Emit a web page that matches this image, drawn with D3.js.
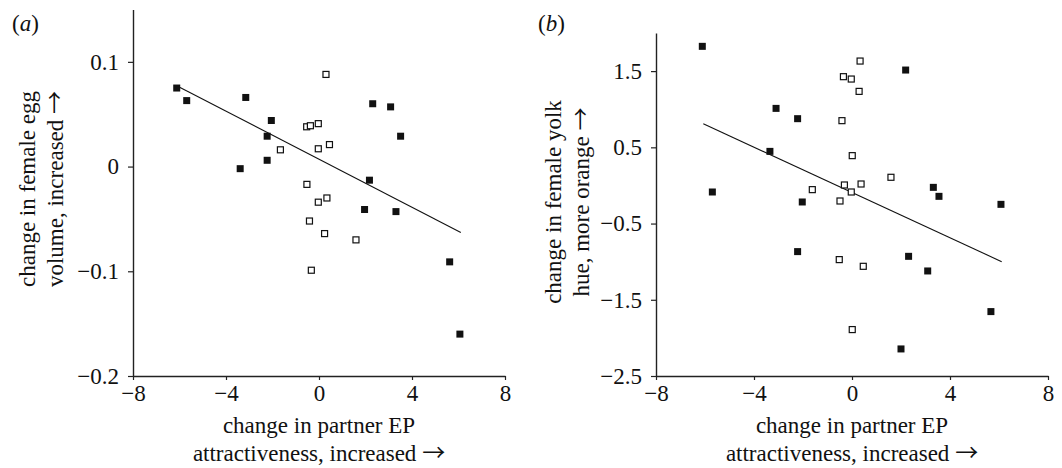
<!DOCTYPE html>
<html><head><meta charset="utf-8">
<script src="https://cdn.jsdelivr.net/npm/d3@7"></script>
<style>
body{margin:0;background:#fff;}
text{font-family:"Liberation Serif","Times New Roman",serif;fill:#111;}
.arr{font-family:"Noto Sans CJK JP","DejaVu Sans",sans-serif;}
</style></head>
<body><svg id="c" width="1062" height="468"></svg>
<script>
// Panel (a): change in female egg volume
const aFilledX = [-6.12,-5.69,-3.15,-2.05,-2.23,-2.23,-3.39,2.31,3.08,3.51,2.17,1.96,3.31,5.62,6.06];
const aFilledY = [0.075,0.063,0.066,0.044,0.029,0.006,-0.002,0.060,0.057,0.029,-0.013,-0.041,-0.043,-0.091,-0.160];
const aOpenX = [0.30,-0.53,-0.37,-0.03,-0.03,0.45,-1.66,-0.52,-0.03,0.34,-0.41,0.24,1.59,-0.33];
const aOpenY = [0.088,0.038,0.039,0.041,0.017,0.021,0.016,-0.017,-0.034,-0.030,-0.052,-0.064,-0.070,-0.099];
const aLineX = [-6.1, 6.1];
const aLineY = [0.077, -0.063];
const aYTicks = [-0.2,-0.1,0,0.1];

// Panel (b): change in female yolk hue
const bFilledX = [-6.11,-5.70,-3.10,-2.22,-3.35,-2.03,2.19,3.32,3.55,6.08,-2.22,2.31,3.09,5.67,2.00];
const bFilledY = [1.825,-0.086,1.011,0.876,0.447,-0.217,1.514,-0.025,-0.143,-0.248,-0.868,-0.930,-1.122,-1.655,-2.145];
const bOpenX = [0.33,-0.35,-0.03,0.29,-0.41,0.01,1.59,-0.31,0.37,-1.62,-0.03,-0.49,-0.52,0.46,0.01];
const bOpenY = [1.632,1.427,1.396,1.234,0.850,0.391,0.107,0.006,0.019,-0.055,-0.086,-0.204,-0.973,-1.061,-1.891];
const bLineX = [-6.07, 6.11];
const bLineY = [0.81, -1.00];
const bYTicks = [-2.5,-1.5,-0.5,0.5,1.5];

const xTicks = [-8,-4,0,4,8];
const FS = 23;

const svg = d3.select("#c");
const fmt = v => (v < 0 ? "\u2212" : "") + String(Math.abs(v));

function withArrow(sel, txt){
  sel.append("tspan").text(txt + " ");
  sel.append("tspan").attr("class","arr").text("\u2192");
}

function panel(opt){
  const g = svg.append("g");
  const x = d3.scaleLinear().domain([-8,8]).range(opt.xr);
  const y = d3.scaleLinear().domain(opt.yd).range(opt.yr);
  const xa = g.append("g").attr("transform",`translate(0,${opt.yr[0]})`)
    .call(d3.axisBottom(x).tickValues(xTicks).tickSize(4).tickPadding(5).tickFormat(fmt).tickSizeOuter(0));
  const ya = g.append("g").attr("transform",`translate(${opt.xr[0]},0)`)
    .call(d3.axisLeft(y).tickValues(opt.yt).tickSize(5).tickPadding(9).tickFormat(fmt).tickSizeOuter(0));
  [xa,ya].forEach(a=>{
    a.attr("font-family",null);
    a.selectAll("path").attr("stroke","#222").attr("stroke-width",1.4);
    a.selectAll("line").attr("stroke","#222").attr("stroke-width",1.2);
    a.selectAll("text").attr("font-size",FS).attr("font-family","Liberation Serif").attr("fill","#111");
  });
  // regression line
  g.append("line")
    .attr("x1",x(opt.lx[0])).attr("y1",y(opt.ly[0]))
    .attr("x2",x(opt.lx[1])).attr("y2",y(opt.ly[1]))
    .attr("stroke","#111").attr("stroke-width",1.1);
  // open squares
  const od = opt.ox.map((v,i)=>[v,opt.oy[i]]);
  g.selectAll("rect.o").data(od).enter().append("rect").attr("class","o")
    .attr("x",d=>x(d[0])-3).attr("y",d=>y(d[1])-3).attr("width",6).attr("height",6)
    .attr("fill","#fff").attr("stroke","#111").attr("stroke-width",1.2);
  // filled squares
  const fd = opt.fx.map((v,i)=>[v,opt.fy[i]]);
  g.selectAll("rect.f").data(fd).enter().append("rect").attr("class","f")
    .attr("x",d=>x(d[0])-3.5).attr("y",d=>y(d[1])-3.5).attr("width",7).attr("height",7)
    .attr("fill","#111");
  // panel label
  const pl = g.append("text").attr("x",opt.lab[0]).attr("y",opt.lab[1]).attr("font-size",FS);
  pl.append("tspan").text("(");
  pl.append("tspan").attr("font-style","italic").text(opt.letter);
  pl.append("tspan").text(")");
  // y label
  const yl = g.append("text").attr("transform",`translate(${opt.ylx},${opt.ylc}) rotate(-90)`)
    .attr("text-anchor","middle").attr("font-size",FS);
  yl.append("tspan").attr("x",0).attr("y",0).text(opt.yl1);
  const yl2 = g.append("text").attr("transform",`translate(${opt.ylx+28},${opt.ylc}) rotate(-90)`)
    .attr("text-anchor","middle").attr("font-size",FS);
  withArrow(yl2, opt.yl2);
  // x label
  const xc = (opt.xr[0]+opt.xr[1])/2;
  g.append("text").attr("x",xc).attr("y",433).attr("text-anchor","middle").attr("font-size",FS)
    .text("change in partner EP");
  const xl2 = g.append("text").attr("x",xc).attr("y",461).attr("text-anchor","middle").attr("font-size",FS);
  withArrow(xl2, "attractiveness, increased");
}

panel({xr:[133,505], yd:[-0.2,0.15], yr:[376,9.5], yt:aYTicks,
  fx:aFilledX, fy:aFilledY, ox:aOpenX, oy:aOpenY, lx:aLineX, ly:aLineY,
  lab:[12,31], letter:"a", ylx:35, ylc:189,
  yl1:"change in female egg", yl2:"volume, increased"});

panel({xr:[656,1048], yd:[-2.5,2.0], yr:[376,33], yt:bYTicks,
  fx:bFilledX, fy:bFilledY, ox:bOpenX, oy:bOpenY, lx:bLineX, ly:bLineY,
  lab:[538,31], letter:"b", ylx:561, ylc:202,
  yl1:"change in female yolk", yl2:"hue, more orange"});
</script></body></html>
